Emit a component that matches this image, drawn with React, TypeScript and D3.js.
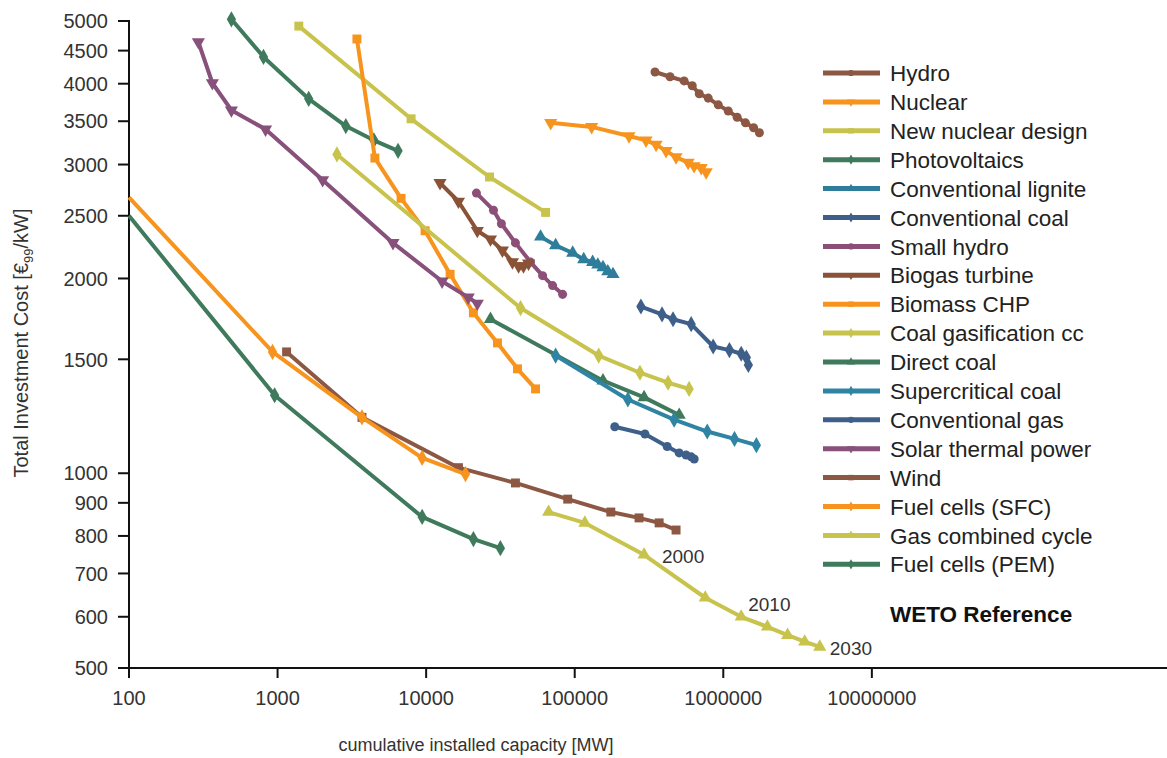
import React from "react";
import * as d3 from "d3";

type Pt = [number, number];

// ---- data (cumulative installed capacity [MW], investment cost [€99/kW]) ----
const hydro: Pt[] = [[347000,4170],[438000,4100],[545000,4040],[618000,3970],[689000,3860],[792000,3800],[925000,3710],[1080000,3630],[1240000,3550],[1410000,3480],[1600000,3420],[1750000,3360]];
const nuclear: Pt[] = [[68900,3480],[130000,3430],[232000,3320],[302000,3270],[353000,3220],[412000,3150],[481000,3080],[580000,3020],[636000,2985],[710000,2965],[767000,2920]];
const newNuclear: Pt[] = [[1390,4910],[7920,3530],[26700,2870],[63700,2530]];
const photovoltaics: Pt[] = [[489,5030],[804,4400],[1620,3790],[2880,3440],[4450,3270],[6470,3150]];
const convLignite: Pt[] = [[58900,2320],[74400,2250],[96900,2190],[115000,2140],[132000,2120],[143000,2100],[155000,2080],[167000,2050],[181000,2030]];
const convCoal: Pt[] = [[279000,1810],[387000,1760],[459000,1730],[608000,1700],[855000,1570],[1100000,1550],[1320000,1530],[1430000,1510],[1475000,1470]];
const smallHydro: Pt[] = [[21800,2710],[28400,2550],[32100,2430],[39900,2270],[50400,2120],[60800,2020],[71000,1950],[82900,1890]];
const biogas: Pt[] = [[12400,2810],[16500,2630],[22100,2370],[27100,2300],[32600,2210],[38100,2120],[41900,2090],[45200,2090],[48900,2110]];
const biomass: Pt[] = [[3420,4690],[4520,3070],[6780,2660],[9840,2370],[14500,2030],[20800,1770],[30200,1590],[41200,1450],[54500,1350]];
const coalGasif: Pt[] = [[2510,3110],[43200,1800],[145000,1520],[275000,1430],[425000,1380],[589000,1350]];
const directCoal: Pt[] = [[27100,1730],[155000,1390],[293000,1310],[505000,1230]];
const supercritical: Pt[] = [[74400,1520],[228000,1300],[467000,1210],[780000,1160],[1190000,1130],[1670000,1105]];
const convGas: Pt[] = [[186000,1180],[297000,1150],[419000,1100],[505000,1075],[562000,1067],[608000,1060],[637000,1052]];
const solarThermal: Pt[] = [[293,4640],[364,4010],[489,3640],[830,3400],[2010,2840],[5980,2270],[12800,1980],[19200,1870],[22100,1830]];
const wind: Pt[] = [[1150,1540],[3700,1220],[16500,1020],[39900,966],[89700,912],[175000,871],[271000,853],[370000,838],[481000,817]];
const fuelSFC: Pt[] = [[100,2670],[925,1540],[3700,1220],[9400,1056],[18400,997]];
const gasCC: Pt[] = [[66700,871],[117000,838],[293000,748],[756000,642],[1320000,600],[1980000,579],[2710000,562],[3530000,549],[4460000,539]];
const fuelPEM: Pt[] = [[100,2500],[955,1320],[9400,856],[20800,791],[31600,766]];

const seriesNames = ["Hydro","Nuclear","New nuclear design","Photovoltaics","Conventional lignite","Conventional coal","Small hydro","Biogas turbine","Biomass CHP","Coal gasification cc","Direct coal","Supercritical coal","Conventional gas","Solar thermal power","Wind","Fuel cells (SFC)","Gas combined cycle","Fuel cells (PEM)"];
const seriesData = [hydro,nuclear,newNuclear,photovoltaics,convLignite,convCoal,smallHydro,biogas,biomass,coalGasif,directCoal,supercritical,convGas,solarThermal,wind,fuelSFC,gasCC,fuelPEM];
const seriesColors = ["#8c5844","#f7941e","#c8c34c","#3f7a5c","#2e7d9b","#3f5f8b","#8c4f78","#8a5236","#f7941e","#c8c34c","#3f7a5c","#2f84a4","#3f5f8b","#87517b","#8c5844","#f7941e","#c8c34c","#3f7a5c"];
const seriesMarkers = ["circle","tdown","square","diamond","tup","diamond","circle","tdown","square","diamond","tup","diamond","circle","tdown","square","diamond","tup","diamond"];

const xTicks = [100,1000,10000,100000,1000000,10000000];
const yTicks = [500,600,700,800,900,1000,1500,2000,2500,3000,3500,4000,4500,5000];
const yearLabels = [
  { text: "2000", at: [292500, 748] as Pt },
  { text: "2010", at: [1320000, 600] as Pt },
  { text: "2030", at: [4460000, 539] as Pt },
];

const W = 1167, H = 758;
const FONT = "'Liberation Sans', Arial, Helvetica, sans-serif";

const x = d3.scaleLog().domain([100, 1e9]).range([129, 1169]);
const y = d3.scaleLog().domain([500, 5000]).range([668, 21]);

function symbolPath(kind: string, size: number) {
  const t = kind === "circle" ? d3.symbolCircle : kind === "square" ? d3.symbolSquare : kind === "diamond" ? d3.symbolDiamond : d3.symbolTriangle;
  return d3.symbol().type(t).size(size)() as string;
}

export default function App() {
  const line = d3.line<Pt>().x((d) => x(d[0])).y((d) => y(d[1]));
  const sizes: Record<string, number> = { circle: 64, square: 80, diamond: 75, tup: 75, tdown: 75 };
  const legendY0 = 73, legendStep = 28.9;
  return (
    <svg width={W} height={H} style={{ position: "absolute", left: 0, top: 0, background: "#fff" }} fontFamily={FONT}>
      {/* axes */}
      <line x1={129} x2={W} y1={668} y2={668} stroke="#111" strokeWidth={2} />
      <line x1={129} x2={129} y1={20} y2={669} stroke="#111" strokeWidth={2} />
      {xTicks.map((t) => (
        <g key={t}>
          <line x1={x(t)} x2={x(t)} y1={668} y2={678} stroke="#111" strokeWidth={2} />
          <text x={x(t)} y={705} textAnchor="middle" fontSize={20} fill="#333">{t}</text>
        </g>
      ))}
      {yTicks.map((t) => (
        <g key={t}>
          <line x1={118} x2={129} y1={y(t)} y2={y(t)} stroke="#111" strokeWidth={2} />
          <text x={108} y={y(t)} dy="0.36em" textAnchor="end" fontSize={20} fill="#333">{t}</text>
        </g>
      ))}
      <text x={476} y={751} textAnchor="middle" fontSize={18} fill="#333">cumulative installed capacity [MW]</text>
      <text transform="translate(28,343) rotate(-90)" textAnchor="middle" fontSize={20} fill="#333">
        Total Investment Cost [€<tspan fontSize={13} dy={5}>99</tspan><tspan dy={-5}>/kW]</tspan>
      </text>

      {/* series */}
      {seriesData.map((data, i) => (
        <g key={seriesNames[i]}>
          <path d={line(data) as string} fill="none" stroke={seriesColors[i]} strokeWidth={4} strokeLinejoin="round" />
          {data.filter((d) => d[0] > 100).map((d, j) => (
            <path key={j} d={symbolPath(seriesMarkers[i], sizes[seriesMarkers[i]])}
              transform={`translate(${x(d[0])},${y(d[1])})${seriesMarkers[i] === "tdown" ? " rotate(180)" : ""}`}
              fill={seriesColors[i]} />
          ))}
        </g>
      ))}

      {/* year annotations on gas combined cycle */}
      {yearLabels.map((l, i) => (
        <text key={l.text} x={x(l.at[0]) + [18, 7, 10][i]} y={y(l.at[1]) + [8, -6, 8][i]} fontSize={19} fill="#333">{l.text}</text>
      ))}

      {/* legend */}
      {seriesNames.map((n, i) => {
        const ly = legendY0 + i * legendStep;
        return (
          <g key={n}>
            <line x1={823} x2={880} y1={ly} y2={ly} stroke={seriesColors[i]} strokeWidth={5} />
            <path d={symbolPath(seriesMarkers[i], 30)} transform={`translate(851,${ly})${seriesMarkers[i] === "tdown" ? " rotate(180)" : ""}`} fill={seriesColors[i]} />
            <text x={890} y={ly} dy="0.36em" fontSize={22.5} fill="#222">{n}</text>
          </g>
        );
      })}
      <text x={890} y={614} dy="0.36em" fontSize={22.5} fontWeight="bold" fill="#111">WETO Reference</text>
    </svg>
  );
}
